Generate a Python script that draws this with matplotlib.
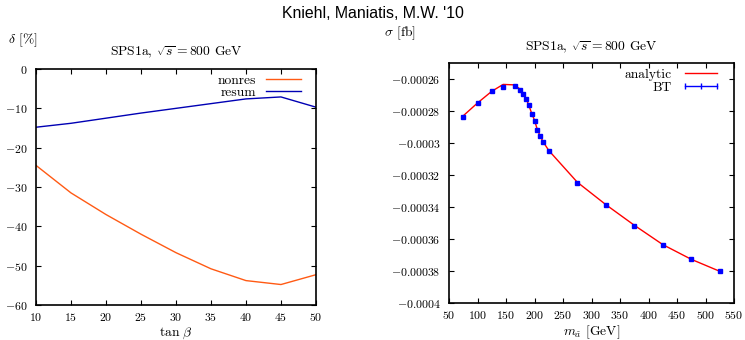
import numpy as np
import matplotlib
matplotlib.use("Agg")
import matplotlib.pyplot as plt
from matplotlib.lines import Line2D
from matplotlib.ticker import FuncFormatter

plt.rcParams['font.family'] = 'serif'
plt.rcParams['font.serif'] = ['cmr10']
plt.rcParams['mathtext.fontset'] = 'cm'
plt.rcParams['axes.formatter.use_mathtext'] = True

# left panel: relative correction vs tan(beta)
tanb = [10, 15, 20, 25, 30, 35, 40, 45, 50]
nonres = [-24.5, -31.5, -37.0, -42.0, -46.7, -50.8, -53.8, -54.8, -52.3]
resum = [-14.8, -13.8, -12.5, -11.2, -10.0, -8.8, -7.6, -7.1, -9.7]

# right panel: cross section vs pseudoscalar mass
m_a = [75, 100, 125, 145, 165, 175, 180, 185, 190, 195, 200, 205, 210,
       215, 225, 275, 325, 375, 425, 475, 525]
analytic = [-0.0002830, -0.0002750, -0.0002677, -0.0002634, -0.0002637,
            -0.0002665, -0.0002692, -0.0002722, -0.0002764, -0.0002815,
            -0.0002858, -0.0002917, -0.0002957, -0.0002992, -0.0003047,
            -0.0003245, -0.0003385, -0.0003514, -0.0003635, -0.0003727,
            -0.0003802]
bt = [-0.0002836, -0.0002750, -0.0002677, -0.0002652, -0.0002646,
      -0.0002669, -0.0002694, -0.0002723, -0.0002765, -0.0002817,
      -0.0002860, -0.0002919, -0.0002959, -0.0002994, -0.0003049,
      -0.0003247, -0.0003387, -0.0003516, -0.0003637, -0.0003728,
      -0.0003803]

title = r'SPS1a, $\sqrt{s} = 800$ GeV'


def style_axes(ax):
    ax.tick_params(direction='in', top=True, right=True, length=3.5,
                   width=0.8, labelsize=8.5)
    ax.tick_params(axis='x', pad=4)
    ax.tick_params(axis='y', pad=6)
    for sp in ax.spines.values():
        sp.set_linewidth(1.2)


fig = plt.figure(figsize=(7.45, 3.4), dpi=100)
fig.text(0.5, 0.96, "Kniehl, Maniatis, M.W. '10", ha='center', va='center',
         fontsize=11.4, family='Liberation Sans')

ax1 = fig.add_axes([0.0483, 0.103, 0.3758, 0.694])
ax1.plot(tanb, nonres, color='#ff5a14', lw=1.0, label='nonres')
ax1.plot(tanb, resum, color='#0000b4', lw=1.0, label='resum')
ax1.set_xlim(10, 50)
ax1.set_ylim(-60, 0)
ax1.set_xticks(np.arange(10, 51, 5))
ax1.set_yticks(np.arange(-60, 1, 10))
ax1.yaxis.set_major_formatter(FuncFormatter(
    lambda v, p: r'$%d$' % v if v != 0 else r'$0$'))
ax1.xaxis.set_major_formatter(FuncFormatter(lambda v, p: r'$%d$' % v))
style_axes(ax1)
ax1.set_xlabel(r'$\tan\,\beta$', fontsize=9.8, labelpad=2)
ax1.set_title(title, fontsize=9.8, pad=9)
fig.text(0.011, 0.882, r'$\delta$ [%]', fontsize=9.8, va='center')
ax1.legend(loc='upper right', bbox_to_anchor=(0.965, 1.0), frameon=False,
           markerfirst=False, fontsize=9.7, handlelength=2.6,
           handletextpad=0.7, labelspacing=-0.05, borderaxespad=0.0)

ax2 = fig.add_axes([0.6027, 0.1088, 0.3826, 0.706])
ax2.plot(m_a, analytic, color='#ff0000', lw=1.0)
ax2.plot(m_a, bt, ls='none', marker='s', ms=3.5, color='#0000ff')
ax2.set_xlim(50, 550)
ax2.set_ylim(-0.0004, -0.00025)
ax2.set_xticks(np.arange(50, 551, 50))
ax2.set_yticks(np.arange(-0.0004, -0.000255, 0.00002))
ax2.yaxis.set_major_formatter(FuncFormatter(
    lambda v, p: r'$%s$' % ('%.5f' % v).rstrip('0')))
ax2.xaxis.set_major_formatter(FuncFormatter(lambda v, p: r'$%d$' % v))
style_axes(ax2)
ax2.set_xlabel(r'$m_{\tilde{a}}$ [GeV]', fontsize=9.8, labelpad=2)
ax2.set_title(title, fontsize=9.8, pad=8)
fig.text(0.516, 0.903, r'$\sigma$ [fb]', fontsize=9.8, va='center')
handles = [Line2D([], [], color='#ff0000', lw=1.0),
           Line2D([], [], color='#0000ff', lw=1.0, marker='|', ms=5)]
ax2.legend(handles, ['analytic', 'BT'], loc='upper right',
           bbox_to_anchor=(0.975, 1.0), frameon=False,
           markerfirst=False, fontsize=9.7, handlelength=3.0, numpoints=3,
           handletextpad=0.7, labelspacing=0.05, borderaxespad=0.0)

fig.savefig('out.png', dpi=100)
